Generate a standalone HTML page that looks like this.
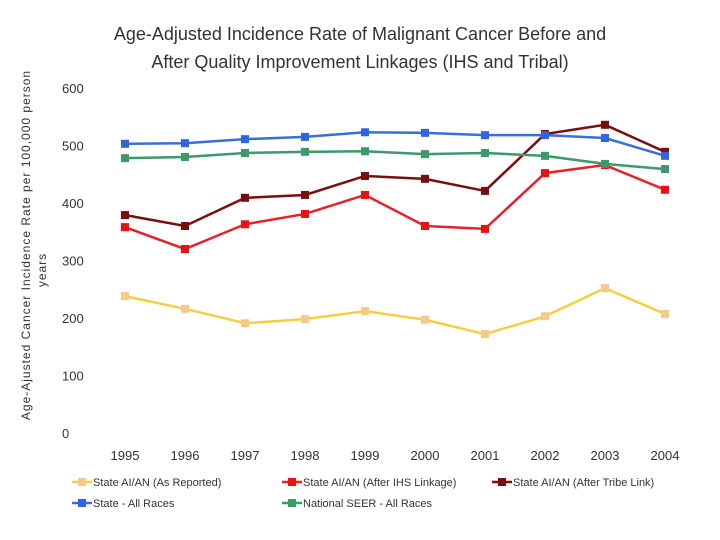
<!DOCTYPE html>
<html><head><meta charset="utf-8"><style>
body{margin:0;background:#fff;}
svg{display:block;font-family:"Liberation Sans",sans-serif;}
</style></head><body>
<svg id="chart" width="720" height="540">
<text x="360" y="40" font-size="18" text-anchor="middle" fill="#333">Age-Adjusted Incidence Rate of Malignant Cancer Before and</text>
<text x="360" y="68" font-size="18" text-anchor="middle" fill="#333">After Quality Improvement Linkages (IHS and Tribal)</text>
<text transform="translate(30,245) rotate(-90)" font-size="12" text-anchor="middle" fill="#333" letter-spacing="1">Age-Ajusted Cancer Incidence Rate per 100,000 person</text>
<text transform="translate(46,270) rotate(-90)" font-size="12" text-anchor="middle" fill="#333" letter-spacing="1">years</text>
<g id="ticks"></g><g id="series"></g><g id="legend"></g>
</svg>
<script>
const years=[1995,1996,1997,1998,1999,2000,2001,2002,2003,2004];
const yTicks=[0,100,200,300,400,500,600];
const asReported=[238,216,191,198,212,197,172,203,252,207];
const afterIHS=[358,320,363,381,414,360,355,452,466,423];
const afterTribe=[379,360,409,414,447,442,421,520,536,489];
const allRaces=[503,504,511,515,523,522,518,518,513,482];
const seer=[478,480,487,489,490,485,487,482,468,459];
const names=["State AI/AN (As Reported)","State AI/AN (After IHS Linkage)","State AI/AN (After Tribe Link)","State - All Races","National SEER - All Races"];
const ns="http://www.w3.org/2000/svg";
const x=i=>125+i*60, y=v=>433-v*0.575;
function mk(t,a,p){const e=document.createElementNS(ns,t);for(const k in a)e.setAttribute(k,a[k]);p.appendChild(e);return e;}
const tk=document.getElementById('ticks');
yTicks.forEach(v=>{const t=mk('text',{x:62,y:y(v)+5,'font-size':13,fill:'#333'},tk);t.textContent=v;

});
years.forEach((yr,i)=>{const t=mk('text',{x:x(i),y:460,'font-size':13,fill:'#333','text-anchor':'middle'},tk);t.textContent=yr;

});
const ser=[{d:asReported,l:'#f2d040',m:'#f8c888',n:'as-reported'},{d:afterIHS,l:'#e8202a',m:'#e81010',n:'after-ihs'},{d:afterTribe,l:'#7a0e0e',m:'#7a0e0e',n:'after-tribe'},{d:allRaces,l:'#3a6ed8',m:'#2f66e0',n:'all-races'},{d:seer,l:'#3a9a6a',m:'#3a9a6a',n:'national-seer'}];
const sg=document.getElementById('series');
ser.forEach(s=>{const g=mk('g',{},sg);


mk('polyline',{points:s.d.map((v,i)=>x(i)+','+y(v)).join(' '),fill:'none',stroke:s.l,'stroke-width':2.5},g);
s.d.forEach((v,i)=>{const r=mk('rect',{x:x(i)-4,y:y(v)-4,width:8,height:8,fill:s.m},g);

});});
const lg=document.getElementById('legend');
const pos=[[72,482],[282,482],[492,482],[72,503],[282,503]];
ser.forEach((s,i)=>{const g=mk('g',{},lg);


const [lx,ly]=pos[i];
mk('line',{x1:lx,y1:ly,x2:lx+20,y2:ly,stroke:s.l,'stroke-width':2.5},g);
mk('rect',{x:lx+6,y:ly-4,width:8,height:8,fill:s.m},g);
const t=mk('text',{x:lx+21,y:ly+4,'font-size':11,fill:'#333'},g);t.textContent=names[i];});
</script>
</body></html>
